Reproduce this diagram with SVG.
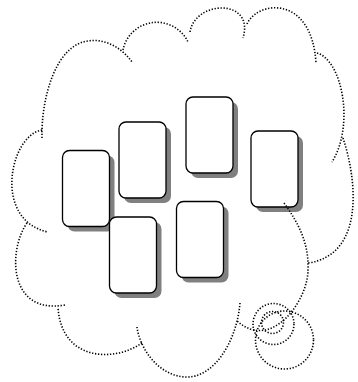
<svg xmlns="http://www.w3.org/2000/svg" width="358" height="382" viewBox="0 0 358 382">
<style>
.card{fill:#fff;stroke:#000;stroke-width:1.3}
.shadow{fill:#808080;stroke:none}
.dot{fill:none;stroke:#000;stroke-width:1.6;stroke-dasharray:1.3 1.7}
</style>
<defs>
<g id="cardShape">
<rect class="shadow" x="5" y="5" width="47" height="76" rx="7"/>
<rect class="card" x="0" y="0" width="47" height="76" rx="7"/>
</g>
</defs>
<rect width="358" height="382" fill="#fff"/>
<g id="card-a"><use href="#cardShape" x="62.5" y="150.5"/></g>
<g id="card-b"><use href="#cardShape" x="119" y="122"/></g>
<g id="card-c"><use href="#cardShape" x="186" y="97"/></g>
<g id="card-d"><use href="#cardShape" x="251" y="131"/></g>
<g id="card-e"><use href="#cardShape" x="109.5" y="217"/></g>
<g id="card-f"><use href="#cardShape" x="176.5" y="201.5"/></g>
<g id="cloud">
<path class="dot" d="M42,138 C41,100 55,45 88,41 C105,38 122,48 132,62
M123,50 A34.5,34.5 0 0 1 188,42
M190,32 C195,0 255,-2 243,38
M247,24 C258,0 312,-5 316,63
M317,53 C342,60 355,125 332,162
M343,138 C357,180 365,255 308,263
M284,203 C300,225 309,245 308,270 C308,300 272,352 237,321
M240,303 C237,340 215,377 187,377 C160,377 140,350 137,327
M142,343 C115,362 62,362 58,308
M27,223 C8,250 8,315 65,305
M42,130 C10,135 -8,220 48,232"/>
<circle class="dot" cx="272.5" cy="322.5" r="11"/>
<circle class="dot" cx="273.5" cy="324" r="20.5"/>
<circle class="dot" cx="284.5" cy="340" r="29"/>
</g>
<g id="connectors"/>
</svg>
